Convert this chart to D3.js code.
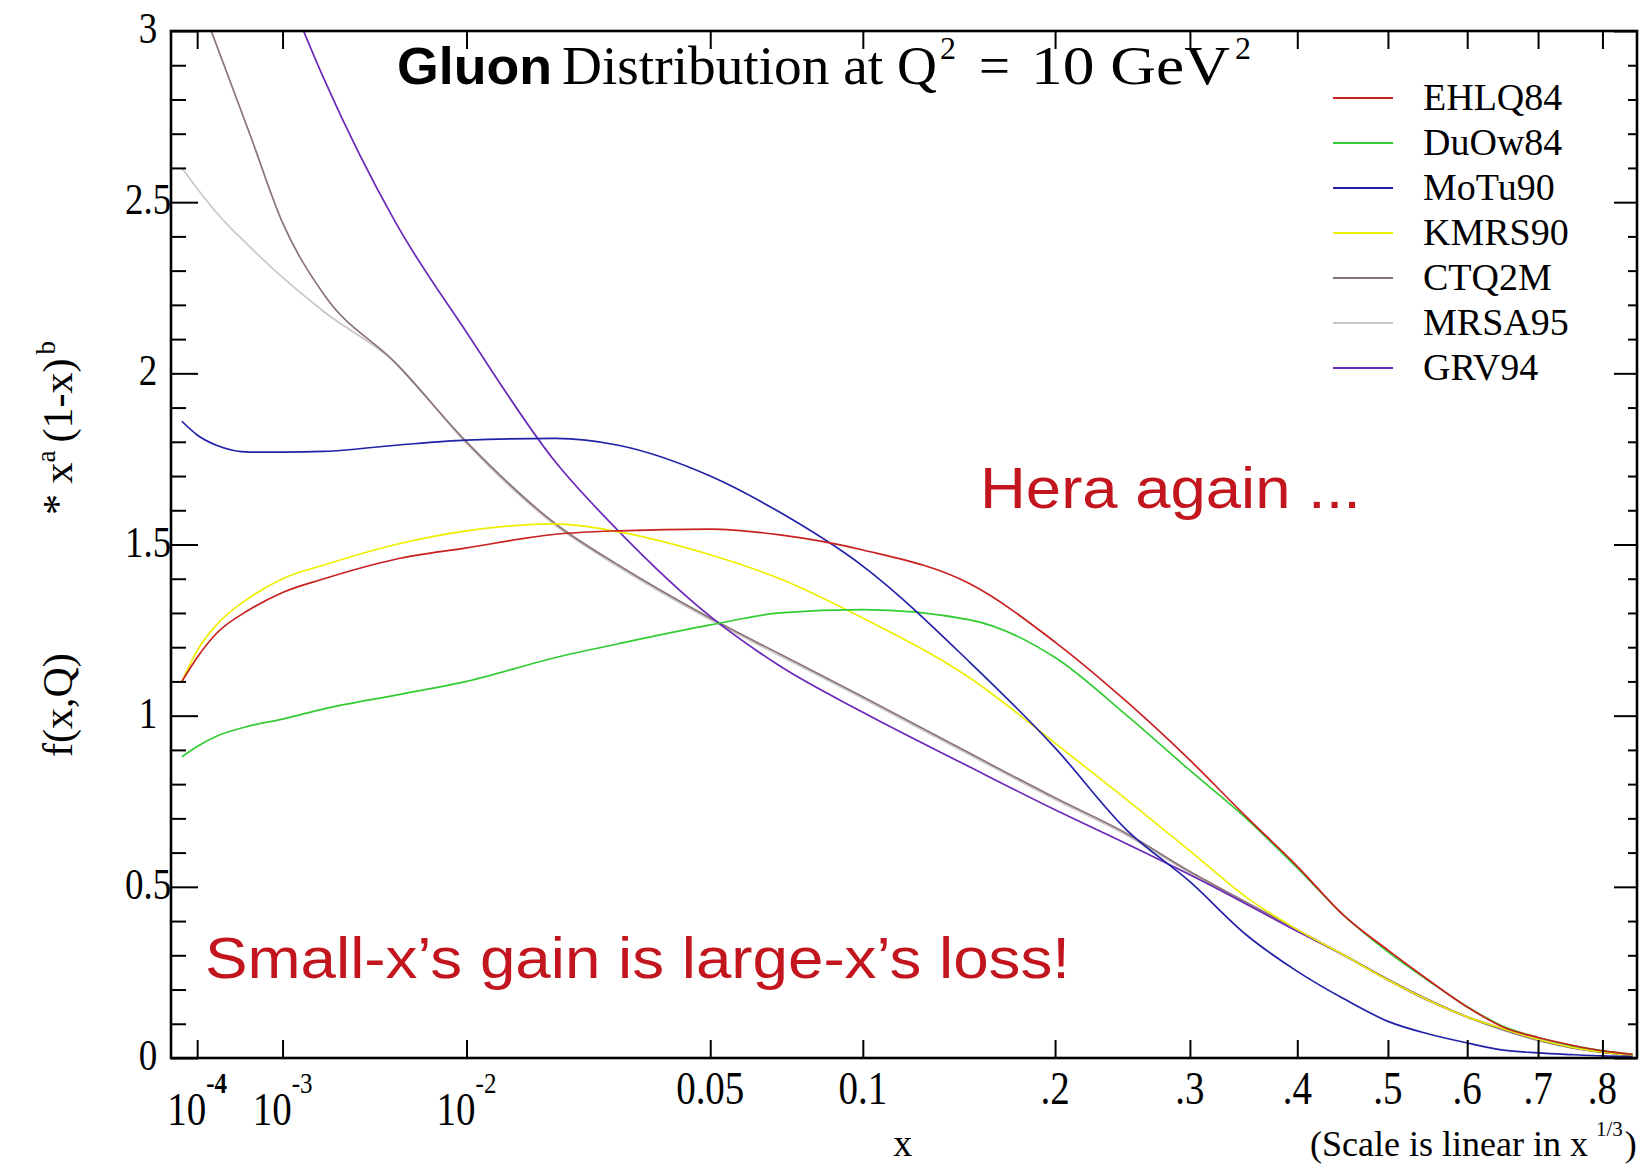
<!DOCTYPE html>
<html>
<head>
<meta charset="utf-8">
<script src="https://cdn.jsdelivr.net/npm/d3@7"></script>
<style>
  body { margin: 0; background: #fff; }
  svg { display: block; }
</style>
</head>
<body>
<svg id="chart" width="1641" height="1166"></svg>
<script>
// Sampling points in x (momentum fraction)
const xGrid = [5e-5, 1e-4, 2e-4, 5e-4, 1e-3, 2e-3, 5e-3, 0.01, 0.02, 0.03, 0.05, 0.07, 0.1, 0.15,
               0.2, 0.25, 0.3, 0.35, 0.4, 0.45, 0.5, 0.55, 0.6, 0.65, 0.7, 0.75, 0.8, 0.85];

// Gluon distributions x*g(x,Q) at Q^2 = 10 GeV^2
const EHLQ84 = [1.10, 1.17, 1.24, 1.31, 1.36, 1.40, 1.457, 1.49, 1.53, 1.54, 1.545, 1.528, 1.484, 1.385,
                1.215, 1.04, 0.87, 0.705, 0.56, 0.415, 0.315, 0.227, 0.149, 0.09, 0.06, 0.038, 0.021, 0.011];
const DuOw84 = [0.88, 0.91, 0.94, 0.97, 0.99, 1.02, 1.06, 1.10, 1.17, 1.21, 1.265, 1.30, 1.31, 1.28,
                1.17, 1.00, 0.84, 0.70, 0.555, 0.415, 0.31, 0.225, 0.15, 0.092, 0.06, 0.037, 0.021, 0.011];
const MoTu90 = [1.86, 1.82, 1.79, 1.77, 1.77, 1.772, 1.79, 1.805, 1.81, 1.79, 1.70, 1.594, 1.437, 1.156,
                0.906, 0.665, 0.515, 0.36, 0.253, 0.172, 0.107, 0.07, 0.044, 0.023, 0.015, 0.01, 0.006, 0.004];
const KMRS90 = [1.10, 1.19, 1.265, 1.345, 1.40, 1.44, 1.50, 1.54, 1.56, 1.537, 1.47, 1.40, 1.285, 1.11,
                0.92, 0.754, 0.605, 0.47, 0.375, 0.30, 0.228, 0.168, 0.12, 0.085, 0.054, 0.032, 0.017, 0.008];
const CTQ2M  = [3.24, 3.11, 2.96, 2.70, 2.44, 2.23, 2.03, 1.80, 1.56, 1.44, 1.285, 1.18, 1.055, 0.89,
                0.76, 0.655, 0.545, 0.455, 0.375, 0.30, 0.23, 0.17, 0.12, 0.082, 0.052, 0.03, 0.017, 0.008];
const MRSA95 = [2.60, 2.54, 2.47, 2.37, 2.28, 2.18, 2.03, 1.795, 1.555, 1.435, 1.28, 1.175, 1.05, 0.885,
                0.755, 0.65, 0.54, 0.45, 0.372, 0.298, 0.228, 0.168, 0.119, 0.081, 0.051, 0.03, 0.016, 0.008];
const GRV94  = [null, null, null, null, 3.15, 2.86, 2.44, 2.12, 1.74, 1.54, 1.29, 1.145, 1.01, 0.85,
                0.725, 0.625, 0.535, 0.45, 0.37, 0.30, 0.228, 0.167, 0.12, 0.085, 0.054, 0.032, 0.017, 0.008];

const seriesNames  = ["EHLQ84", "DuOw84", "MoTu90", "KMRS90", "CTQ2M", "MRSA95", "GRV94"];
const seriesValues = [EHLQ84, DuOw84, MoTu90, KMRS90, CTQ2M, MRSA95, GRV94];
const seriesColors = ["#c8201f", "#33cc33", "#2222a8", "#eeee00", "#8c7474", "#c8c8c8", "#6c28b8"];
// drawing order (bottom to top)
const drawOrder = ["MRSA95", "CTQ2M", "GRV94", "KMRS90", "DuOw84", "MoTu90", "EHLQ84"];

// Axis ticks
const xTickVals = [1e-4, 1e-3, 1e-2, 0.05, 0.1, 0.2, 0.3, 0.4, 0.5, 0.6, 0.7, 0.8];
const xTickBase = ["10", "10", "10", "0.05", "0.1", ".2", ".3", ".4", ".5", ".6", ".7", ".8"];
const xTickSup  = ["-4", "-3", "-2", "", "", "", "", "", "", "", "", ""];
const yTickVals = [0, 0.5, 1, 1.5, 2, 2.5, 3];
const yTickText = ["0", "0.5", "1", "1.5", "2", "2.5", "3"];

const W = 1641, H = 1166;
const margin = { left: 171, top: 31, right: 4, bottom: 108 };
const x0 = margin.left, x1 = W - margin.right;
const y0 = H - margin.bottom, y1 = margin.top;

const svg = d3.select("#chart");
const serif = "'Liberation Serif', 'Times New Roman', serif";
const sans = "'Liberation Sans', Arial, sans-serif";

// Horizontal scale is linear in x^(1/3)
const x = d3.scalePow().exponent(1 / 3).domain([Math.pow(0.03, 3), Math.pow(0.95, 3)]).range([x0, x1]);
const y = d3.scaleLinear().domain([0, 3]).range([y0, y1]);

svg.append("rect").attr("width", W).attr("height", H).attr("fill", "#fff");

// Clip region for the curves
svg.append("clipPath").attr("id", "plot-clip")
  .append("rect").attr("x", x0).attr("y", y1).attr("width", x1 - x0).attr("height", y0 - y1);

// Curves
const line = d3.line()
  .defined(d => d[1] != null)
  .x(d => x(d[0]))
  .y(d => y(d[1]))
  .curve(d3.curveMonotoneX);

const curves = svg.append("g").attr("clip-path", "url(#plot-clip)");
drawOrder.forEach(name => {
  const i = seriesNames.indexOf(name);
  const pts = xGrid.map((xv, k) => [xv, seriesValues[i][k]]);
  curves.append("path")
    .attr("d", line(pts))
    .attr("fill", "none")
    .attr("stroke", seriesColors[i])
    .attr("stroke-width", 1.7)
    .attr("stroke-linejoin", "round");
});

// Ticks (pointing inward on all four sides)
const yMinor = d3.range(1, 30).map(k => k / 10).filter(v => Math.abs(v * 2 - Math.round(v * 2)) > 1e-6);
function styleTicks(g) {
  g.select(".domain").remove();
  g.selectAll(".tick line").attr("stroke", "#000").attr("stroke-width", 2);
}
svg.append("g").attr("transform", `translate(0,${y0})`)
  .call(d3.axisBottom(x).tickValues(xTickVals).tickSize(-18).tickFormat(""))
  .call(styleTicks);
svg.append("g").attr("transform", `translate(0,${y1})`)
  .call(d3.axisTop(x).tickValues(xTickVals).tickSize(-18).tickFormat(""))
  .call(styleTicks);
svg.append("g").attr("transform", `translate(${x0},0)`)
  .call(d3.axisLeft(y).tickValues(yTickVals).tickSize(-27).tickFormat(""))
  .call(styleTicks);
svg.append("g").attr("transform", `translate(${x0},0)`)
  .call(d3.axisLeft(y).tickValues(yMinor).tickSize(-15).tickFormat(""))
  .call(styleTicks);
svg.append("g").attr("transform", `translate(${x1},0)`)
  .call(d3.axisRight(y).tickValues(yTickVals).tickSize(-23).tickFormat(""))
  .call(styleTicks);
svg.append("g").attr("transform", `translate(${x1},0)`)
  .call(d3.axisRight(y).tickValues(yMinor).tickSize(-9).tickFormat(""))
  .call(styleTicks);

// Frame
svg.append("rect")
  .attr("x", x0).attr("y", y1).attr("width", x1 - x0).attr("height", y0 - y1)
  .attr("fill", "none").attr("stroke", "#000").attr("stroke-width", 2.6);

// Tick labels (tall serif digits)
const stretch = 1.2;
const xLab = svg.append("g").attr("font-family", serif).attr("fill", "#000");
xTickVals.forEach((v, i) => {
  const hasSup = xTickSup[i] !== "";
  const t = xLab.append("text")
    .attr("transform", `translate(${x(v)},${hasSup ? y0 + 67 : y0 + 46}) scale(1,${stretch})`)
    .attr("text-anchor", "middle")
    .attr("font-size", 39);
  t.append("tspan").text(xTickBase[i]);
  if (hasSup) {
    t.append("tspan").attr("dy", -27).attr("font-size", 25)
      .attr("font-weight", i === 0 ? "bold" : "normal").text(xTickSup[i]);
  }
});

const yLab = svg.append("g").attr("font-family", serif).attr("fill", "#000");
yTickVals.forEach((v, i) => {
  yLab.append("text")
    .attr("transform", `translate(${x0 - 23},${y(v) + 12}) scale(1,${stretch})`)
    .attr("text-anchor", "middle")
    .attr("font-size", 37)
    .text(yTickText[i]);
});

// Axis titles
svg.append("text")
  .attr("x", x(0.1) + 40).attr("y", H - 10)
  .attr("text-anchor", "middle").attr("font-family", serif).attr("font-size", 38)
  .text("x");

const note = svg.append("text")
  .attr("x", 1310).attr("y", H - 10)
  .attr("font-family", serif).attr("font-size", 36).attr("fill", "#000");
note.append("tspan").text("(Scale is linear in x");
note.append("tspan").attr("dx", 8).attr("dy", -20).attr("font-size", 21).text("1/3");
note.append("tspan").attr("dx", 2).attr("dy", 20).text(")");

const yTitle = svg.append("g")
  .attr("transform", "translate(72,0) rotate(-90)")
  .attr("font-family", serif).attr("font-size", 42).attr("fill", "#000");
yTitle.append("text").attr("x", -757).attr("y", 0).text("f(x,Q)");
const yt2 = yTitle.append("text").attr("x", -515).attr("y", 0);
yt2.append("tspan").text("* x");
yt2.append("tspan").attr("dy", -17).attr("font-size", 27).text("a");
yt2.append("tspan").attr("dx", 8).attr("dy", 17).text("(1-x)");
yt2.append("tspan").attr("dx", 4).attr("dy", -17).attr("font-size", 27).text("b");

// Title
const titleBase = 84;
svg.append("text")
  .attr("x", 397).attr("y", titleBase)
  .attr("font-family", sans).attr("font-weight", "bold").attr("font-size", 52)
  .attr("textLength", 155).attr("lengthAdjust", "spacingAndGlyphs")
  .text("Gluon");
const titleSerif = svg.append("g").attr("font-family", serif).attr("fill", "#000");
titleSerif.append("text").attr("x", 562).attr("y", titleBase).attr("font-size", 54)
  .attr("textLength", 375).attr("lengthAdjust", "spacingAndGlyphs")
  .text("Distribution at Q");
titleSerif.append("text").attr("x", 940).attr("y", titleBase - 25).attr("font-size", 32).text("2");
titleSerif.append("text").attr("x", 979).attr("y", titleBase).attr("font-size", 54)
  .attr("textLength", 31).attr("lengthAdjust", "spacingAndGlyphs").text("=");
titleSerif.append("text").attr("x", 1031).attr("y", titleBase).attr("font-size", 54)
  .attr("textLength", 199).attr("lengthAdjust", "spacingAndGlyphs").text("10 GeV");
titleSerif.append("text").attr("x", 1235).attr("y", titleBase - 25).attr("font-size", 32).text("2");

// Legend
const legend = svg.append("g").attr("font-family", serif).attr("font-size", 38);
seriesNames.forEach((name, i) => {
  const ly = 98 + i * 45;
  legend.append("line")
    .attr("x1", 1333).attr("x2", 1393).attr("y1", ly).attr("y2", ly)
    .attr("stroke", seriesColors[i]).attr("stroke-width", 2.2);
  legend.append("text").attr("x", 1423).attr("y", ly + 12).attr("fill", "#000").text(name);
});

// Annotations
const noteRed = "#c2151d";
svg.append("text")
  .attr("x", 980).attr("y", 508)
  .attr("font-family", sans).attr("font-size", 58).attr("fill", noteRed)
  .attr("textLength", 381).attr("lengthAdjust", "spacingAndGlyphs")
  .text("Hera again ...");
svg.append("text")
  .attr("x", 205).attr("y", 978)
  .attr("font-family", sans).attr("font-size", 58).attr("fill", noteRed)
  .attr("textLength", 865).attr("lengthAdjust", "spacingAndGlyphs")
  .text("Small-x\u2019s gain is large-x\u2019s loss!");
</script>
</body>
</html>
